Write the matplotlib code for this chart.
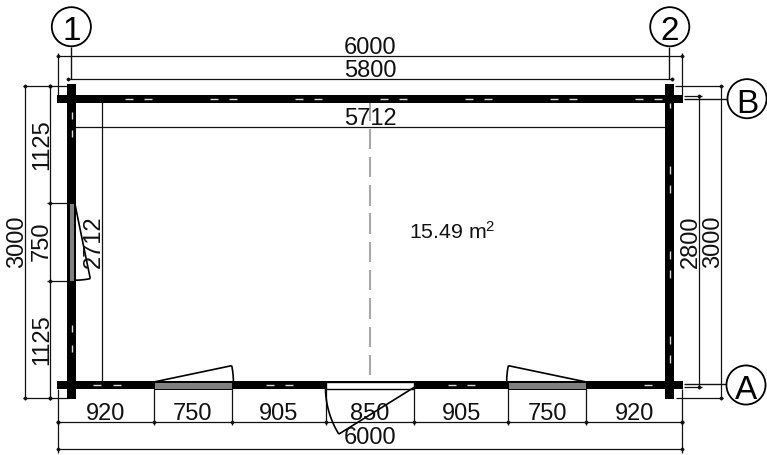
import numpy as np
import matplotlib.pyplot as plt
from matplotlib.patches import Circle, Rectangle

plt.rcParams['font.family'] = ['Liberation Sans', 'DejaVu Sans']
plt.rcParams['mathtext.default'] = 'regular'

# all sizes in mm, as on the drawing
front_widths = [920, 750, 905, 850, 905, 750, 920]
side_widths = [1125, 750, 1125]
overall_x = 6000
overall_y = 3000
axis_x = 5800
axis_y = 2800
inner_x = 5712
inner_y = 2712
floor_area = '15.49 m$^{2}$'
grid_x_labels = ['1', '2']
grid_y_labels = ['B', 'A']

DARK = '#111111'
LW = 0.9
TS = 17
ts_grid = 24
MS = 1.5

fig = plt.figure(figsize=(7.67, 4.55), dpi=100)
ax = fig.add_axes([0, 0, 1, 1])
ax.set_xlim(-558, 6817)
ax.set_ylim(3551, -824)
ax.axis('off')


def line(xs, ys, lw=LW, color=DARK, z=2):
    ax.plot(xs, ys, color=color, lw=lw, solid_capstyle='butt', zorder=z)


def dim_h(y, x0, x1):
    line([x0, x1], [y, y])
    ax.plot([x0, x1], [y, y], ls='', marker='D', ms=MS, color=DARK, zorder=2)


def dim_v(x, y0, y1):
    line([x, x], [y0, y1])
    ax.plot([x, x], [y0, y1], ls='', marker='D', ms=MS, color=DARK, zorder=2)


def label_h(x, y, value):
    ax.text(x, y, str(value), fontsize=TS, ha='center', va='baseline', color=DARK, zorder=6)


def label_v(x, y, value):
    ax.text(x, y, str(value), fontsize=TS, ha='center', va='baseline', rotation=90,
            rotation_mode='anchor', color=DARK, zorder=6)


def swing(hinge, free, closed):
    # leaf from hinge to free end, then arc back to the closed position
    hx, hy = hinge
    r = np.hypot(free[0] - hx, free[1] - hy)
    a0 = np.arctan2(free[1] - hy, free[0] - hx)
    a1 = np.arctan2(closed[1] - hy, closed[0] - hx)
    if a1 - a0 > np.pi:
        a1 -= 2 * np.pi
    if a0 - a1 > np.pi:
        a1 += 2 * np.pi
    t = np.linspace(a0, a1, 40)
    line([hx, free[0]], [hy, free[1]], lw=1.2, color='black', z=5)
    line(hx + r * np.cos(t), hy + r * np.sin(t), lw=1.2, color='black', z=5)


def grid_bubble(x, y, text, tx, ty):
    ax.add_patch(Circle((x, y), 188, fc='white', ec='black', lw=1.3, zorder=4))
    ax.text(tx, ty, text, fontsize=ts_grid, ha='center', va='baseline', color='black', zorder=5)


front_x = np.concatenate([[0], np.cumsum(front_widths)])
side_y = np.concatenate([[0], np.cumsum(side_widths)])

# walls
wall_kw = dict(fc='black', ec='none', zorder=3)
ax.add_patch(Rectangle((-12, 88), overall_x + 24, 79, **wall_kw))
ax.add_patch(Rectangle((-12, 2838), overall_x + 24, 81, **wall_kw))
ax.add_patch(Rectangle((87, -16), 81, overall_y + 32, **wall_kw))
ax.add_patch(Rectangle((5840, -16), 80, overall_y + 32, **wall_kw))

# openings in the walls
win_kw = dict(fc='#808080', ec='black', lw=0.7, zorder=3.5)
ax.add_patch(Rectangle((front_x[1], 2846), front_widths[1], 69, **win_kw))
ax.add_patch(Rectangle((front_x[5], 2846), front_widths[5], 69, **win_kw))
ax.add_patch(Rectangle((105, side_y[1]), 50, side_widths[1], **win_kw))
ax.add_patch(Rectangle((front_x[3], 2846), front_widths[3], 69, fc='white', ec='black', lw=1.0, zorder=3.5))

# log joint dashes
dash_kw = dict(lw=1.0, color='#d9d9d9', z=3.6)
for start in np.arange(644, 5700, 817):
    for x0 in [start, start + 183]:
        line([x0, x0 + 77], [128, 128], **dash_kw)
for x0 in [337, 529, 2000, 2183, 3750, 3933, 5635]:
    line([x0, x0 + 77], [2882, 2882], **dash_kw)
for y0 in [253, 426, 2301, 2493]:
    line([135, 135], [y0, y0 + 70], **dash_kw)
for y0 in [772, 955, 1589, 1772, 2407, 2590]:
    line([5883, 5883], [y0, y0 + 75], **dash_kw)
line([5883, 5883], [170, 215], **dash_kw)

# centre line
for y0 in np.arange(140, 2780, 272):
    line([3000, 3000], [y0, min(y0 + 197, 2850)], lw=1.5, color='#a8a8a8', z=1)

# swings of door and windows
swing((front_x[1] + 15, 2846), (front_x[2], 2692), (front_x[2] + 10, 2846))
swing((front_x[6] - 15, 2846), (front_x[5], 2692), (front_x[5] - 10, 2846))
swing((front_x[4], 2900), (front_x[3] + 125, 3350), (front_x[3], 2900))
swing((160, side_y[1]), (310, side_y[2] - 20), (160, side_y[2]))

# dimensions along the top
ext_top = -315
line([0, 0], [ext_top, 92])
line([overall_x, overall_x], [ext_top, 92])
dim_h(-282, 0, overall_x)
label_h(3000, -305, overall_x)
dim_h(-62, 100, 100 + axis_x)
label_h(3000, -85, axis_x)

# inner clear sizes
dim_h(397, 3000 - inner_x / 2, 3000 + inner_x / 2)
label_h(3000, 380, inner_x)
dim_v(426, 1500 - inner_y / 2, 1500 + inner_y / 2)
label_v(400, 1500, inner_y)

# dimensions along the bottom
for x in front_x:
    line([x, x], [2919, 3260])
dim_h(3234, 0, overall_x)
ax.plot(front_x, np.full(len(front_x), 3234), ls='', marker='D', ms=MS, color=DARK, zorder=2)
line([0, 0], [3234, 3530])
line([overall_x, overall_x], [3234, 3530])
dim_h(3496, 0, overall_x)
label_h(3000, 3445, overall_x)
for i, w in enumerate(front_widths):
    label_h((front_x[i] + front_x[i + 1]) / 2, 3215, w)

# dimensions along the left side
for y in [0, overall_y]:
    line([-337, 96], [y, y])
for y in side_y[1:-1]:
    line([-106, 96], [y, y])
dim_v(-317, 0, overall_y)
dim_v(-77, 0, overall_y)
ax.plot(np.full(len(side_y), -77), side_y, ls='', marker='D', ms=MS, color=DARK, zorder=2)
label_v(-337, 1500, overall_y)
for i, w in enumerate(side_widths):
    label_v(-97, (side_y[i] + side_y[i + 1]) / 2, w)

# dimensions along the right side
line([5933, 6395], [0, 0])
line([5942, 6395], [overall_y, overall_y])
line([6019, 6190], [100, 100])
line([6019, 6190], [100 + axis_y, 100 + axis_y])
dim_v(6163, 100, 100 + axis_y)
dim_v(6375, 0, overall_y)
label_v(6145, 1500, axis_y)
label_v(6355, 1500, overall_y)

# grid lines and bubbles
line([125, 125], [-375, -62], lw=1.0)
line([5875, 5875], [-375, -62], lw=1.0)
line([6019, 6440], [125, 125], lw=1.0)
line([6019, 6440], [2872, 2872], lw=1.0)
grid_bubble(128, -567, grid_x_labels[0], 128, -440)
grid_bubble(5882, -567, grid_x_labels[1], 5882, -440)
grid_bubble(6625, 125, grid_y_labels[0], 6625, 260)
grid_bubble(6615, 2878, grid_y_labels[1], 6615, 3010)

ax.text(3370, 1470, floor_area, fontsize=15.3, ha='left', va='baseline', color=DARK)

fig.savefig('out.png', dpi=100)
